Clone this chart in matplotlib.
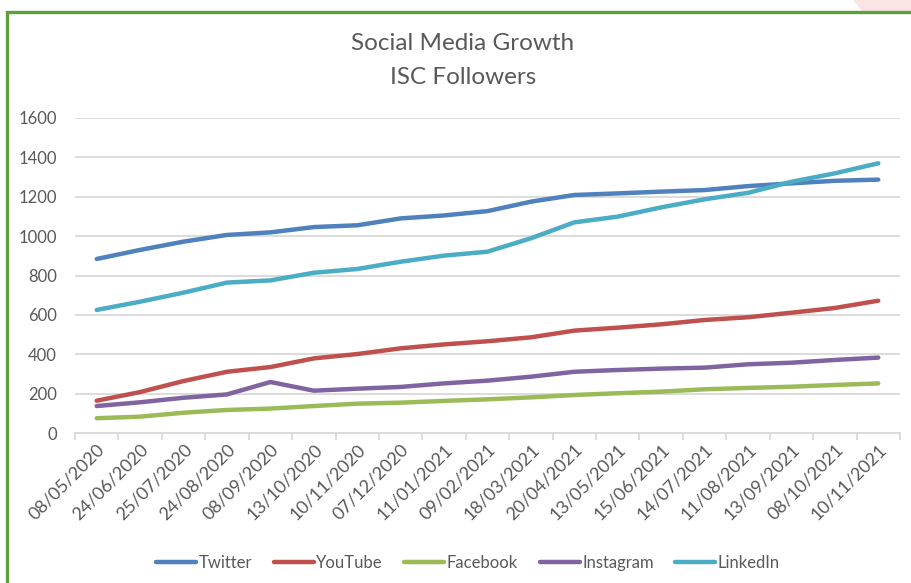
import matplotlib
matplotlib.use("Agg")
import matplotlib.pyplot as plt
from matplotlib.patches import Rectangle, Polygon
import numpy as np

dates = ["08/05/2020", "24/06/2020", "25/07/2020", "24/08/2020", "08/09/2020",
         "13/10/2020", "10/11/2020", "07/12/2020", "11/01/2021", "09/02/2021",
         "18/03/2021", "20/04/2021", "13/05/2021", "15/06/2021", "14/07/2021",
         "11/08/2021", "13/09/2021", "08/10/2021", "10/11/2021"]
twitter = [884, 930, 972, 1006, 1019, 1046, 1055, 1090, 1105, 1127, 1175, 1209,
           1217, 1226, 1234, 1254, 1268, 1281, 1287]
youtube = [164, 208, 264, 311, 335, 379, 401, 430, 450, 466, 486, 520,
           535, 552, 574, 588, 611, 635, 672]
facebook = [75, 83, 103, 117, 124, 137, 149, 154, 163, 171, 181, 193,
            202, 210, 222, 229, 235, 244, 252]
instagram = [137, 156, 179, 196, 259, 215, 225, 234, 252, 266, 286, 311,
             320, 327, 332, 349, 357, 371, 383]
linkedin = [625, 667, 713, 764, 775, 814, 833, 870, 901, 921, 989, 1070,
            1099, 1146, 1187, 1220, 1276, 1319, 1370]
series_names = ["Twitter", "YouTube", "Facebook", "Instagram", "LinkedIn"]
colors = ["#4F81BD", "#C0504D", "#9BBB59", "#8064A2", "#4BACC6"]
yticks = [0, 200, 400, 600, 800, 1000, 1200, 1400, 1600]

plt.rcParams['font.family'] = ['Lato', 'DejaVu Sans']

W, H = 912, 583
fig = plt.figure(figsize=(W / 100, H / 100), dpi=100)

# background pink shape top-right and green border
fig.patches.append(Polygon([[853 / W, 1], [1, 1], [1, 1 - 11 / H], [862 / W, 1 - 11 / H]],
                           closed=True, transform=fig.transFigure,
                           facecolor="#FCE4E4", edgecolor="none", zorder=0))
fig.patches.append(Rectangle((7 / W, -0.05), 1.0, 1 - 12.5 / H + 0.05,
                             transform=fig.transFigure, facecolor="white",
                             edgecolor="#5E9F3A", linewidth=2.4, zorder=1))

ax = fig.add_axes([75 / W, 1 - 433 / H, 825 / W, 315 / H])
ax.set_zorder(2)
ax.patch.set_alpha(0)

x = np.arange(len(dates))
data = [twitter, youtube, facebook, instagram, linkedin]
for name, vals, c in zip(series_names, data, colors):
    ax.plot(x, vals, color=c, linewidth=3.2, label=name, solid_capstyle="round",
            solid_joinstyle="round", zorder=3)

ax.set_xlim(-0.5, len(dates) - 0.5)
ax.set_ylim(0, 1600)
ax.set_yticks(yticks)
ax.set_yticklabels([str(v) for v in yticks], fontsize=12, color="#595959")
ax.grid(axis="y", color="#D9D9D9", linewidth=1.3, zorder=0)
ax.tick_params(axis="y", length=0, pad=13)

ax.set_xticks(x)
ax.set_xticklabels(dates, rotation=45, ha="right", rotation_mode="anchor",
                   fontsize=13, color="#595959")
ax.set_xticks(np.arange(-0.5, len(dates)), minor=True)
ax.tick_params(axis="x", which="major", length=0, pad=6)
ax.tick_params(axis="x", which="minor", length=5, color="#D9D9D9", width=1.3)

for s in ["top", "right", "left"]:
    ax.spines[s].set_visible(False)
ax.spines["bottom"].set_color("#D9D9D9")
ax.spines["bottom"].set_linewidth(1.3)

fig.text(463 / W, 1 - 44 / H, "Social Media Growth", ha="center", va="center",
         fontsize=17.5, color="#595959")
fig.text(463 / W, 1 - 77 / H, "ISC Followers", ha="center", va="center",
         fontsize=17.5, color="#595959")

leg = fig.legend(loc="center", bbox_to_anchor=(468 / W, 1 - 563 / H), ncol=5,
                 frameon=False, fontsize=12, handlelength=2.4, handletextpad=0.15,
                 columnspacing=1.3)
for t in leg.get_texts():
    t.set_color("#595959")
for l in leg.get_lines():
    l.set_linewidth(3.2)

fig.savefig("out.png", dpi=100)
